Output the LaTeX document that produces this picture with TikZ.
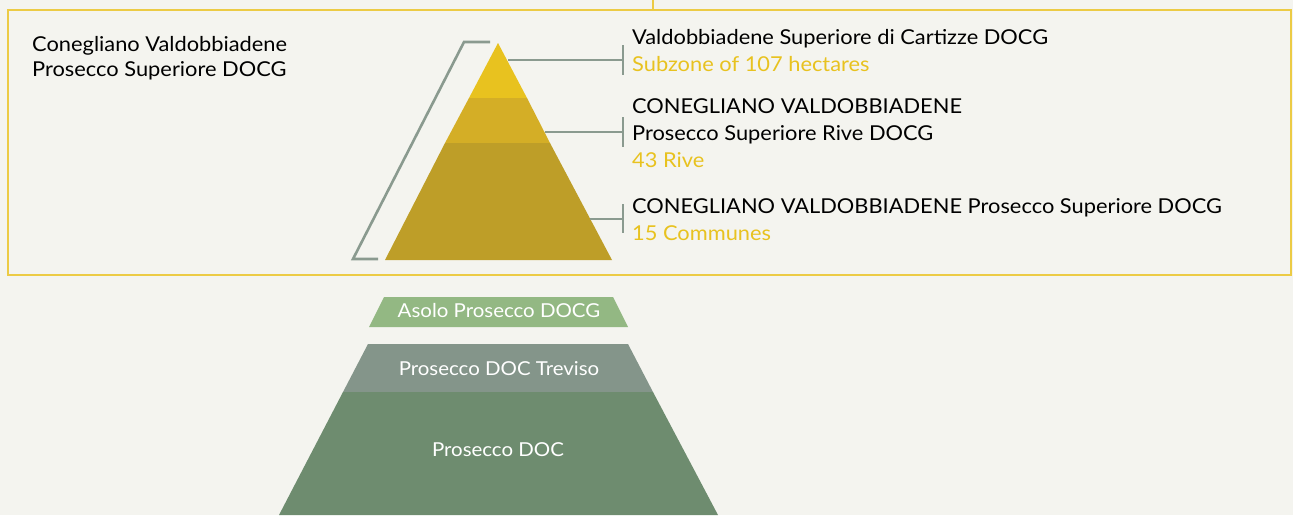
\documentclass[tikz,border=0pt]{standalone}
\usepackage{fontspec}
\setmainfont{Lato}[FakeStretch=1.065]
\definecolor{bg}{HTML}{F4F4EF}
\definecolor{frame}{HTML}{ECCB45}
\definecolor{goldA}{HTML}{E8C21F}
\definecolor{goldB}{HTML}{D4AE26}
\definecolor{goldC}{HTML}{BE9E28}
\definecolor{leader}{HTML}{8A9A8F}
\definecolor{greenA}{HTML}{93B883}
\definecolor{greyG}{HTML}{84958A}
\definecolor{greenC}{HTML}{6E8C6F}
\definecolor{ytext}{HTML}{E8C21F}
\tikzset{
  lbl/.style={anchor=base west, inner sep=0pt, font=\fontsize{20.5}{24}\selectfont, text=black},
  ylbl/.style={lbl, text=ytext},
  wlbl/.style={anchor=base, inner sep=0pt, font=\fontsize{19.2}{22}\selectfont, text=white},
  leadline/.style={draw=leader, line width=2.6pt},
}
\begin{document}
\begin{tikzpicture}[x=1pt,y=-1pt]
\fill[bg] (0,0) rectangle (1293,515);
\useasboundingbox (0,0) rectangle (1293,515);
% frame
\draw[frame, line width=2pt] (8,10) rectangle (1291,275);
\coordinate (ctop) at (653,0);
\coordinate (cbox) at (653,10);
\draw[frame, line width=2pt] (ctop) -- (cbox);
% gold pyramid
\fill[goldA] (498,43) -- (527,98) -- (469,98) -- cycle;
\fill[goldB] (469,98) -- (527,98) -- (550,143) -- (445,143) -- cycle;
\fill[goldC] (445,143) -- (550,143) -- (612,260) -- (385,260) -- cycle;
% bracket
\draw[leadline] (490,42) -- (464,42) -- (353,259) -- (378,259);
% leaders
\coordinate (p1) at (508,60);  \coordinate (t1) at (623,60);
\coordinate (p2) at (545,132); \coordinate (t2) at (623,132);
\coordinate (p3) at (590,219); \coordinate (t3) at (623,219);
\draw[leadline] (p1) -- (t1); \draw[leadline] (623,45) -- (623,75);
\draw[leadline] (p2) -- (t2); \draw[leadline] (623,117) -- (623,147);
\draw[leadline] (p3) -- (t3); \draw[leadline] (623,204) -- (623,233);
% labels
\node[lbl] (l0a) at (32,51) {Conegliano Valdobbiadene};
\node[lbl] (l0b) at (32,76) {Prosecco Superiore DOCG};
\node[lbl] (l1a) at (632,44) {Valdobbiadene Superiore di Cartizze DOCG};
\node[ylbl] (l1b) at (632,71) {Subzone of 107 hectares};
\node[lbl] (l2a) at (632,113) {CONEGLIANO VALDOBBIADENE};
\node[lbl] (l2b) at (632,140) {Prosecco Superiore Rive DOCG};
\node[ylbl] (l2c) at (632,167) {43 Rive};
\node[lbl] (l3a) at (632,213) {CONEGLIANO VALDOBBIADENE Prosecco Superiore DOCG};
\node[ylbl] (l3b) at (632,240) {15 Communes};
% green pyramid
\fill[greenA] (384,297) -- (613,297) -- (628,327) -- (369,327) -- cycle;
\fill[greyG] (368,344) -- (628,344) -- (653,392) -- (343,392) -- cycle;
\fill[greenC] (343,392) -- (653,392) -- (718,515) -- (279,515) -- cycle;
\node[wlbl] (asolo) at (499,317) {Asolo Prosecco DOCG};
\node[wlbl] (treviso) at (499,375) {Prosecco DOC Treviso};
\node[wlbl] (doc) at (498,456) {Prosecco DOC};
\end{tikzpicture}
\end{document}
